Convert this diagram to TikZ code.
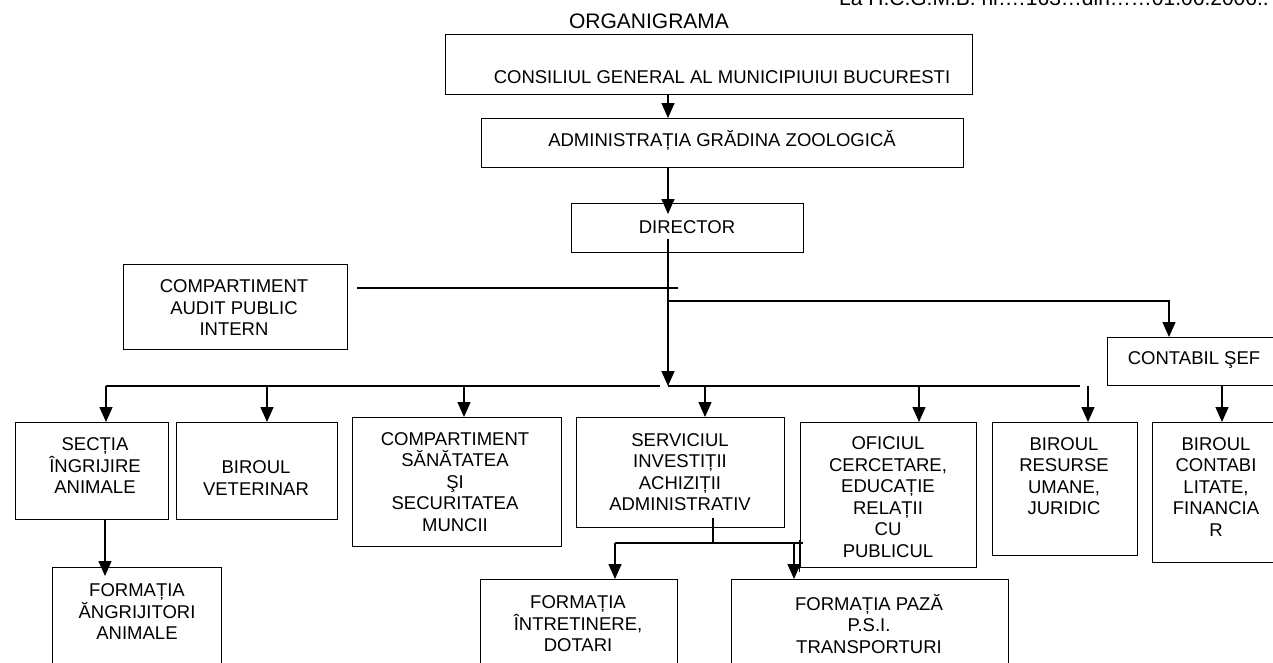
\documentclass[tikz,border=0pt]{standalone}
\usepackage{fontspec}
\setmainfont{Liberation Sans}
\usetikzlibrary{arrows.meta,calc}
\begin{document}
\begin{tikzpicture}[x=1pt,y=-1pt,
  box/.style={draw,line width=1.4pt,inner sep=0pt,anchor=north west},
  txt/.style={inner sep=0pt,align=center,font=\fontsize{18.5}{21.5}\selectfont},
  bigtxt/.style={inner sep=0pt,font=\fontsize{21}{24}\selectfont},
  ln/.style={line width=1.4pt},
  arr/.style={line width=1.4pt,-{Triangle[length=15pt,width=13pt]}}]
\useasboundingbox (0,0) rectangle (1273,662);

% header texts
\node[bigtxt] (title) at (649,21) {ORGANIGRAMA};
\node[bigtxt,anchor=base west] (ref) at (839,5) {La H.C.G.M.B. nr.…163…din……01.06.2006..};

% boxes
\node[box,minimum width=527pt,minimum height=60pt] (cgmb) at (445,34) {};
\node[box,minimum width=482pt,minimum height=49pt] (admin) at (481,118) {};
\node[box,minimum width=232pt,minimum height=49pt] (dir) at (571,203) {};
\node[box,minimum width=224pt,minimum height=85pt] (audit) at (123,264) {};
\node[box,minimum width=173pt,minimum height=48pt] (csef) at (1107,337) {};
\node[box,minimum width=153pt,minimum height=97pt] (sect) at (15,422) {};
\node[box,minimum width=161pt,minimum height=97pt] (vet) at (176,422) {};
\node[box,minimum width=209pt,minimum height=129pt] (comp) at (352,417) {};
\node[box,minimum width=208pt,minimum height=110pt] (serv) at (576,417) {};
\node[box,minimum width=176pt,minimum height=145pt] (ofic) at (800,422) {};
\node[box,minimum width=145pt,minimum height=133pt] (ru) at (992,422) {};
\node[box,minimum width=128pt,minimum height=140pt] (contab) at (1152,422) {};
\node[box,minimum width=169pt,minimum height=110pt] (fingr) at (52,567) {};
\node[box,minimum width=197pt,minimum height=100pt] (fintr) at (480,579) {};
\node[box,minimum width=277pt,minimum height=100pt] (fpaza) at (731,579) {};

% texts
\node[txt] (tcgmb) at (722,77) {CONSILIUL GENERAL AL MUNICIPIUIUI BUCURESTI};
\node[txt] (tadmin) at (722,140) {ADMINISTRAȚIA GRĂDINA ZOOLOGICĂ};
\node[txt] (tdir) at (687,227) {DIRECTOR};
\node[txt] (taudit) at (234,308) {COMPARTIMENT\\AUDIT PUBLIC\\INTERN};
\node[txt] (tcsef) at (1194,360) {CONTABIL ŞEF};
\node[txt] (tsect) at (95,466) {SECȚIA\\ÎNGRIJIRE\\ANIMALE};
\node[txt] (tvet) at (256,478) {BIROUL\\VETERINAR};
\node[txt] (tcomp) at (455,482) {COMPARTIMENT\\SĂNĂTATEA\\ŞI\\SECURITATEA\\MUNCII};
\node[txt] (tserv) at (680,472) {SERVICIUL\\INVESTIȚII\\ACHIZIȚII\\ADMINISTRATIV};
\node[txt] (tofic) at (888,497) {OFICIUL\\CERCETARE,\\EDUCAȚIE\\RELAȚII\\CU\\PUBLICUL};
\node[txt] (tru) at (1064,476) {BIROUL\\RESURSE\\UMANE,\\JURIDIC};
\node[txt] (tcontab) at (1216,487) {BIROUL\\CONTABI\\LITATE,\\FINANCIA\\R};
\node[txt] (tfingr) at (137,612) {FORMAȚIA\\ĂNGRIJITORI\\ANIMALE};
\node[txt] (tfintr) at (578,624) {FORMAȚIA\\ÎNTRETINERE,\\DOTARI};
\node[txt] (tfpaza) at (869,624) {FORMAȚIA PAZĂ\\P.S.I.\\TRANSPORTURI};

% helper coordinates
\coordinate (vx) at (668,0);
\coordinate (dtip) at ([yshift=-11pt]dir.north);
\coordinate (jv) at (668,239);
\coordinate (jb) at (668,386);
\coordinate (aud2) at (678,288);
\coordinate (br) at (668,301);
\coordinate (brx) at (1169,0);
\coordinate (busL) at (106,386);
\coordinate (busG) at (660,386);
\coordinate (busR) at (1080,386);
\coordinate (d2) at (267,386);
\coordinate (d3) at (464,386);
\coordinate (d4) at (705,386);
\coordinate (d5) at (919,386);
\coordinate (d6) at (1088,386);
\coordinate (d7) at (1222,0);
\coordinate (d8) at (105,0);
\coordinate (ftip) at ([yshift=-9pt]fingr.north);
\coordinate (s1) at (713,518);
\coordinate (s2) at (713,543);
\coordinate (hL) at (615,543);
\coordinate (hR) at (803,543);
\coordinate (hD) at (794,543);
\coordinate (x1) at (799,540);
\coordinate (x2) at (799,572);

% connectors
\draw[arr] (cgmb.south -| vx) -- (admin.north -| vx);
\draw[arr] (admin.south -| vx) -- (dtip -| vx);
\draw[arr,line width=1.7pt] (jv) -- (jb);
\draw[ln] ([xshift=9pt]audit.east |- aud2) -- (aud2);
\draw[arr] (br) -| (csef.north -| brx);
\draw[ln] (busL) -- (busG);
\draw[ln] (jb) -- (busR);
\draw[arr] (busL) -- (sect.north -| busL);
\draw[arr] (d2) -- (vet.north -| d2);
\draw[arr] (d3) -- (comp.north -| d3);
\draw[arr] (d4) -- (serv.north -| d4);
\draw[arr] (d5) -- (ofic.north -| d5);
\draw[arr] (d6) -- (ru.north -| d6);
\draw[arr] (csef.south -| d7) -- (contab.north -| d7);
\draw[arr] (sect.south -| d8) -- (ftip -| d8);
\draw[ln] (s1) -- (s2);
\draw[ln] (hL) -- (hR);
\draw[arr] (hL) -- (fintr.north -| hL);
\draw[arr] (hD) -- (fpaza.north -| hD);
\draw[ln,line width=1pt] (x1) -- (x2);
\end{tikzpicture}
\end{document}
